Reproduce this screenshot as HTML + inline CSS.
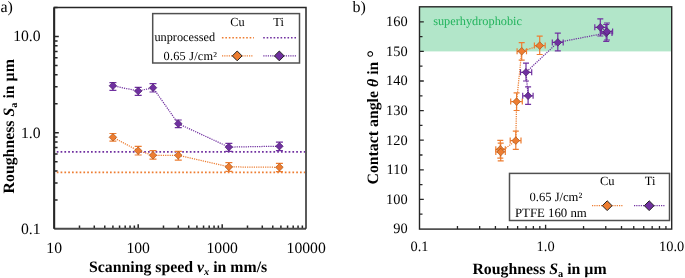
<!DOCTYPE html>
<html><head><meta charset="utf-8"><style>
html,body{margin:0;padding:0;background:#fff;}
svg{display:block;font-family:"Liberation Serif",serif;text-rendering:geometricPrecision;}
.w{will-change:transform;}
</style></head><body>
<div class="w"><svg width="685" height="278" viewBox="0 0 685 278">
<text x="0.5" y="12" font-size="16">a)</text>
<text x="352.5" y="12" font-size="16">b)</text>
<path d="M79.49 228.7v-3.2 M94.28 228.7v-3.2 M104.77 228.7v-3.2 M112.91 228.7v-3.2 M119.56 228.7v-3.2 M125.19 228.7v-3.2 M130.06 228.7v-3.2 M134.36 228.7v-3.2 M138.20 228.7v-4.4 M163.49 228.7v-3.2 M178.28 228.7v-3.2 M188.77 228.7v-3.2 M196.91 228.7v-3.2 M203.56 228.7v-3.2 M209.19 228.7v-3.2 M214.06 228.7v-3.2 M218.36 228.7v-3.2 M222.20 228.7v-4.4 M247.49 228.7v-3.2 M262.28 228.7v-3.2 M272.77 228.7v-3.2 M280.91 228.7v-3.2 M287.56 228.7v-3.2 M293.19 228.7v-3.2 M298.06 228.7v-3.2 M302.36 228.7v-3.2 M54.2 199.94h3.4 M54.2 183.00h3.4 M54.2 170.98h3.4 M54.2 161.66h3.4 M54.2 154.04h3.4 M54.2 147.60h3.4 M54.2 142.02h3.4 M54.2 137.10h3.4 M54.2 132.70h4.6 M54.2 103.74h3.4 M54.2 86.80h3.4 M54.2 74.78h3.4 M54.2 65.46h3.4 M54.2 57.84h3.4 M54.2 51.40h3.4 M54.2 45.82h3.4 M54.2 40.90h3.4 M54.2 36.50h4.6 M54.2 7.54h3.4" stroke="#262626" stroke-width="1.5" fill="none"/>
<path d="M56.800000000000004 151.8H305.0" stroke="#7030A0" stroke-width="1.7" stroke-dasharray="1.7 2.1"/>
<path d="M56.800000000000004 172.3H305.0" stroke="#ED7D31" stroke-width="1.7" stroke-dasharray="1.7 2.1"/>
<polyline points="112.91,137.3 138.20,150.7 152.99,155.3 178.28,155.3 228.85,166.9 279.42,167.3" fill="none" stroke="#ED7D31" stroke-width="1.25" stroke-dasharray="1.2 1.05"/>
<path d="M112.91 133.5V141.2M109.41 133.5h7M109.41 141.2h7" stroke="#ED7D31" stroke-width="1.2" fill="none"/>
<path d="M138.20 146.4V155M134.70 146.4h7M134.70 155h7" stroke="#ED7D31" stroke-width="1.2" fill="none"/>
<path d="M152.99 150.7V159.2M149.49 150.7h7M149.49 159.2h7" stroke="#ED7D31" stroke-width="1.2" fill="none"/>
<path d="M178.28 151.3V160.2M174.78 151.3h7M174.78 160.2h7" stroke="#ED7D31" stroke-width="1.2" fill="none"/>
<path d="M228.85 162.7V171.4M225.35 162.7h7M225.35 171.4h7" stroke="#ED7D31" stroke-width="1.2" fill="none"/>
<path d="M279.42 163.3V171.7M275.92 163.3h7M275.92 171.7h7" stroke="#ED7D31" stroke-width="1.2" fill="none"/>
<path d="M112.91 133.50L116.71 137.30L112.91 141.10L109.11 137.30Z" fill="#ED7D31" stroke="#A85418" stroke-width="0.7"/>
<path d="M138.20 146.90L142.00 150.70L138.20 154.50L134.40 150.70Z" fill="#ED7D31" stroke="#A85418" stroke-width="0.7"/>
<path d="M152.99 151.50L156.79 155.30L152.99 159.10L149.19 155.30Z" fill="#ED7D31" stroke="#A85418" stroke-width="0.7"/>
<path d="M178.28 151.50L182.08 155.30L178.28 159.10L174.48 155.30Z" fill="#ED7D31" stroke="#A85418" stroke-width="0.7"/>
<path d="M228.85 163.10L232.65 166.90L228.85 170.70L225.05 166.90Z" fill="#ED7D31" stroke="#A85418" stroke-width="0.7"/>
<path d="M279.42 163.50L283.22 167.30L279.42 171.10L275.62 167.30Z" fill="#ED7D31" stroke="#A85418" stroke-width="0.7"/>
<polyline points="112.91,85.8 138.20,91 152.99,87.7 178.28,123.7 228.85,147.1 279.42,146.2" fill="none" stroke="#7030A0" stroke-width="1.25" stroke-dasharray="1.2 1.05"/>
<path d="M112.91 82.6V90.3M109.41 82.6h7M109.41 90.3h7" stroke="#7030A0" stroke-width="1.2" fill="none"/>
<path d="M138.20 87.4V95.3M134.70 87.4h7M134.70 95.3h7" stroke="#7030A0" stroke-width="1.2" fill="none"/>
<path d="M152.99 83.6V92M149.49 83.6h7M149.49 92h7" stroke="#7030A0" stroke-width="1.2" fill="none"/>
<path d="M178.28 120V127.6M174.78 120h7M174.78 127.6h7" stroke="#7030A0" stroke-width="1.2" fill="none"/>
<path d="M228.85 143.3V151.4M225.35 143.3h7M225.35 151.4h7" stroke="#7030A0" stroke-width="1.2" fill="none"/>
<path d="M279.42 142.2V150.7M275.92 142.2h7M275.92 150.7h7" stroke="#7030A0" stroke-width="1.2" fill="none"/>
<path d="M112.91 82.00L116.71 85.80L112.91 89.60L109.11 85.80Z" fill="#7030A0" stroke="#4A1F6B" stroke-width="0.7"/>
<path d="M138.20 87.20L142.00 91.00L138.20 94.80L134.40 91.00Z" fill="#7030A0" stroke="#4A1F6B" stroke-width="0.7"/>
<path d="M152.99 83.90L156.79 87.70L152.99 91.50L149.19 87.70Z" fill="#7030A0" stroke="#4A1F6B" stroke-width="0.7"/>
<path d="M178.28 119.90L182.08 123.70L178.28 127.50L174.48 123.70Z" fill="#7030A0" stroke="#4A1F6B" stroke-width="0.7"/>
<path d="M228.85 143.30L232.65 147.10L228.85 150.90L225.05 147.10Z" fill="#7030A0" stroke="#4A1F6B" stroke-width="0.7"/>
<path d="M279.42 142.40L283.22 146.20L279.42 150.00L275.62 146.20Z" fill="#7030A0" stroke="#4A1F6B" stroke-width="0.7"/>
<path d="M54.2 228.7H306.0" stroke="#4a4a4a" stroke-width="2"/>
<path d="M54.2 228.7V7.6H306.0V228.7" fill="none" stroke="#262626" stroke-width="1.5"/>
<path d="M54.2 7.6V228.7" stroke="#262626" stroke-width="2"/>
<rect x="152.7" y="13.6" width="146.8" height="49.4" fill="#fff" stroke="#505050" stroke-width="1.5"/>
<text x="237.5" y="26.2" font-size="12.3" text-anchor="middle">Cu</text>
<text x="278.6" y="26.2" font-size="12.3" text-anchor="middle">Ti</text>
<text x="215.2" y="40.6" font-size="12.3" text-anchor="end">unprocessed</text>
<text x="163.6" y="60.3" font-size="12.3" textLength="53.4" lengthAdjust="spacing">0.65 J/cm²</text>
<path d="M221.9 37.8H254" stroke="#ED7D31" stroke-width="1.6" stroke-dasharray="1.6 1.87"/>
<path d="M263.2 37.8H296" stroke="#7030A0" stroke-width="1.6" stroke-dasharray="1.6 1.87"/>
<path d="M222 55.9H253.5" stroke="#ED7D31" stroke-width="1.25" stroke-dasharray="1.2 1.05"/>
<path d="M263.3 55.9H296" stroke="#7030A0" stroke-width="1.25" stroke-dasharray="1.2 1.05"/>
<path d="M237.20 51.00L242.10 55.90L237.20 60.80L232.30 55.90Z" fill="#ED7D31" stroke="#222" stroke-width="1"/>
<path d="M279.30 51.00L284.20 55.90L279.30 60.80L274.40 55.90Z" fill="#7030A0" stroke="#222" stroke-width="1"/>
<text x="40.6" y="41.40" font-size="15.7" text-anchor="end">10.0</text>
<text x="40.6" y="137.60" font-size="15.7" text-anchor="end">1.0</text>
<text x="40.6" y="233.80" font-size="15.7" text-anchor="end">0.1</text>
<text x="54.20" y="252.7" font-size="15.7" text-anchor="middle">10</text>
<text x="138.20" y="252.7" font-size="15.7" text-anchor="middle">100</text>
<text x="222.20" y="252.7" font-size="15.7" text-anchor="middle">1000</text>
<text x="306.20" y="252.7" font-size="15.7" text-anchor="middle">10000</text>
<text x="178.1" y="272.3" font-size="15.82" font-weight="bold" text-anchor="middle">Scanning speed <tspan font-style="italic">v</tspan><tspan font-style="italic" font-size="10.3" dy="3">x</tspan><tspan dy="-3"> in mm/s</tspan></text>
<text transform="translate(13.5 126.3) rotate(-90)" font-size="15.82" font-weight="bold" text-anchor="middle">Roughness <tspan font-style="italic">S</tspan><tspan font-size="10.3" dy="3">a</tspan><tspan dy="-3"> in µm</tspan></text>
<rect x="419.5" y="6.8" width="252.20000000000005" height="44.60" fill="#B2E6C9"/>
<text x="433.2" y="24.8" font-size="12.3" fill="#21B35C">superhydrophobic</text>
<path d="M457.46 229.1v-3.0 M479.66 229.1v-3.0 M495.42 229.1v-3.0 M507.64 229.1v-3.0 M517.62 229.1v-3.0 M526.07 229.1v-3.0 M533.38 229.1v-3.0 M539.83 229.1v-3.0 M545.60 229.1v-4.3 M583.56 229.1v-3.0 M605.76 229.1v-3.0 M621.52 229.1v-3.0 M633.74 229.1v-3.0 M643.72 229.1v-3.0 M652.17 229.1v-3.0 M659.48 229.1v-3.0 M665.93 229.1v-3.0 M419.5 214.20h3.0 M419.5 199.40h4.3 M419.5 184.60h3.0 M419.5 169.80h4.3 M419.5 155.00h3.0 M419.5 140.20h4.3 M419.5 125.40h3.0 M419.5 110.60h4.3 M419.5 95.80h3.0 M419.5 81.00h4.3 M419.5 66.20h3.0 M419.5 51.40h4.3 M419.5 36.60h3.0 M419.5 21.80h4.3" stroke="#262626" stroke-width="1.3" fill="none"/>
<polyline points="500.3,149.3 500.7,152 515.8,140.6 516.6,101.6 521.7,51.3 539.7,45.6" fill="none" stroke="#ED7D31" stroke-width="1.25" stroke-dasharray="1.2 1.05"/>
<path d="M500.3 140.4V158.2M497.30 140.4h6M497.30 158.2h6M495.8 149.3H505.3M495.8 146.30v6M505.3 146.30v6" stroke="#ED7D31" stroke-width="1.2" fill="none"/>
<path d="M500.7 143.1V160.9M497.70 143.1h6M497.70 160.9h6M495.8 152H505.3M495.8 149.00v6M505.3 149.00v6" stroke="#ED7D31" stroke-width="1.2" fill="none"/>
<path d="M515.8 131.2V149.3M512.80 131.2h6M512.80 149.3h6M510.2 140.6H521M510.2 137.60v6M521 137.60v6" stroke="#ED7D31" stroke-width="1.2" fill="none"/>
<path d="M516.6 92.9V110.5M513.60 92.9h6M513.60 110.5h6M510.7 101.6H522.3M510.7 98.60v6M522.3 98.60v6" stroke="#ED7D31" stroke-width="1.2" fill="none"/>
<path d="M521.7 42.7V60.2M518.70 42.7h6M518.70 60.2h6M517.1 51.3H526.5M517.1 48.30v6M526.5 48.30v6" stroke="#ED7D31" stroke-width="1.2" fill="none"/>
<path d="M539.7 36.2V54.5M536.70 36.2h6M536.70 54.5h6M534.4 45.6H545.2M534.4 42.60v6M545.2 42.60v6" stroke="#ED7D31" stroke-width="1.2" fill="none"/>
<path d="M500.30 145.50L504.10 149.30L500.30 153.10L496.50 149.30Z" fill="#ED7D31" stroke="#A85418" stroke-width="0.7"/>
<path d="M500.70 148.20L504.50 152.00L500.70 155.80L496.90 152.00Z" fill="#ED7D31" stroke="#A85418" stroke-width="0.7"/>
<path d="M515.80 136.80L519.60 140.60L515.80 144.40L512.00 140.60Z" fill="#ED7D31" stroke="#A85418" stroke-width="0.7"/>
<path d="M516.60 97.80L520.40 101.60L516.60 105.40L512.80 101.60Z" fill="#ED7D31" stroke="#A85418" stroke-width="0.7"/>
<path d="M521.70 47.50L525.50 51.30L521.70 55.10L517.90 51.30Z" fill="#ED7D31" stroke="#A85418" stroke-width="0.7"/>
<path d="M539.70 41.80L543.50 45.60L539.70 49.40L535.90 45.60Z" fill="#ED7D31" stroke="#A85418" stroke-width="0.7"/>
<polyline points="528.1,95.8 526,72.3 557.8,42.4 606.2,33 607,31.5 600.3,27.3" fill="none" stroke="#7030A0" stroke-width="1.25" stroke-dasharray="1.2 1.05"/>
<path d="M528.1 86.8V104.3M525.10 86.8h6M525.10 104.3h6M522.7 95.8H533.1M522.7 92.80v6M533.1 92.80v6" stroke="#7030A0" stroke-width="1.2" fill="none"/>
<path d="M526 63.1V81M523.00 63.1h6M523.00 81h6M520.5 72.3H531.7M520.5 69.30v6M531.7 69.30v6" stroke="#7030A0" stroke-width="1.2" fill="none"/>
<path d="M557.8 33.2V50.8M554.80 33.2h6M554.80 50.8h6M552.3 42.4H563.2M552.3 39.40v6M563.2 39.40v6" stroke="#7030A0" stroke-width="1.2" fill="none"/>
<path d="M606.2 24.5V41.4M603.20 24.5h6M603.20 41.4h6M600.5 33H612M600.5 30.00v6M612 30.00v6" stroke="#7030A0" stroke-width="1.2" fill="none"/>
<path d="M607 23V40M604.00 23h6M604.00 40h6M601.5 31.5H612.6M601.5 28.50v6M612.6 28.50v6" stroke="#7030A0" stroke-width="1.2" fill="none"/>
<path d="M600.3 18.8V36M597.30 18.8h6M597.30 36h6M594.8 27.3H606M594.8 24.30v6M606 24.30v6" stroke="#7030A0" stroke-width="1.2" fill="none"/>
<path d="M528.10 92.00L531.90 95.80L528.10 99.60L524.30 95.80Z" fill="#7030A0" stroke="#4A1F6B" stroke-width="0.7"/>
<path d="M526.00 68.50L529.80 72.30L526.00 76.10L522.20 72.30Z" fill="#7030A0" stroke="#4A1F6B" stroke-width="0.7"/>
<path d="M557.80 38.60L561.60 42.40L557.80 46.20L554.00 42.40Z" fill="#7030A0" stroke="#4A1F6B" stroke-width="0.7"/>
<path d="M606.20 29.20L610.00 33.00L606.20 36.80L602.40 33.00Z" fill="#7030A0" stroke="#4A1F6B" stroke-width="0.7"/>
<path d="M607.00 27.70L610.80 31.50L607.00 35.30L603.20 31.50Z" fill="#7030A0" stroke="#4A1F6B" stroke-width="0.7"/>
<path d="M600.30 23.50L604.10 27.30L600.30 31.10L596.50 27.30Z" fill="#7030A0" stroke="#4A1F6B" stroke-width="0.7"/>
<rect x="419.5" y="6.8" width="252.20000000000005" height="222.29999999999998" fill="none" stroke="#262626" stroke-width="1.4"/>
<rect x="509.5" y="173.4" width="160" height="47.1" fill="#fff" stroke="#505050" stroke-width="1.5"/>
<text x="607.3" y="184.8" font-size="12.5" text-anchor="middle">Cu</text>
<text x="650.2" y="184.8" font-size="12.5" text-anchor="middle">Ti</text>
<text x="582.2" y="201.3" font-size="12.6" text-anchor="end">0.65 J/cm²</text>
<text x="586.8" y="216.5" font-size="12.8" text-anchor="end">PTFE 160 nm</text>
<path d="M592 205.7H623.5" stroke="#ED7D31" stroke-width="1.25" stroke-dasharray="1.2 1.05"/>
<path d="M634 205.7H665.5" stroke="#7030A0" stroke-width="1.25" stroke-dasharray="1.2 1.05"/>
<path d="M607.20 200.80L612.10 205.70L607.20 210.60L602.30 205.70Z" fill="#ED7D31" stroke="#222" stroke-width="1"/>
<path d="M649.20 200.80L654.10 205.70L649.20 210.60L644.30 205.70Z" fill="#7030A0" stroke="#222" stroke-width="1"/>
<text x="407.6" y="233.40" font-size="14.4" text-anchor="end">90</text>
<text x="407.6" y="203.80" font-size="14.4" text-anchor="end">100</text>
<text x="407.6" y="174.20" font-size="14.4" text-anchor="end">110</text>
<text x="407.6" y="144.60" font-size="14.4" text-anchor="end">120</text>
<text x="407.6" y="115.00" font-size="14.4" text-anchor="end">130</text>
<text x="407.6" y="85.40" font-size="14.4" text-anchor="end">140</text>
<text x="407.6" y="55.80" font-size="14.4" text-anchor="end">150</text>
<text x="407.6" y="26.20" font-size="14.4" text-anchor="end">160</text>
<text x="419.50" y="250.8" font-size="14.4" text-anchor="middle">0.1</text>
<text x="545.60" y="250.8" font-size="14.4" text-anchor="middle">1.0</text>
<text x="671.70" y="250.8" font-size="14.4" text-anchor="middle">10.0</text>
<text x="539.5" y="273.5" font-size="15.82" font-weight="bold" text-anchor="middle">Roughness <tspan font-style="italic">S</tspan><tspan font-size="10.3" dy="3">a</tspan><tspan dy="-3"> in µm</tspan></text>
<text transform="translate(377.9 117.3) rotate(-90)" font-size="15.82" font-weight="bold" text-anchor="middle">Contact angle <tspan font-style="italic">θ</tspan> in <tspan font-size="19" dy="1.6">°</tspan></text>
</svg></div>
</body></html>
